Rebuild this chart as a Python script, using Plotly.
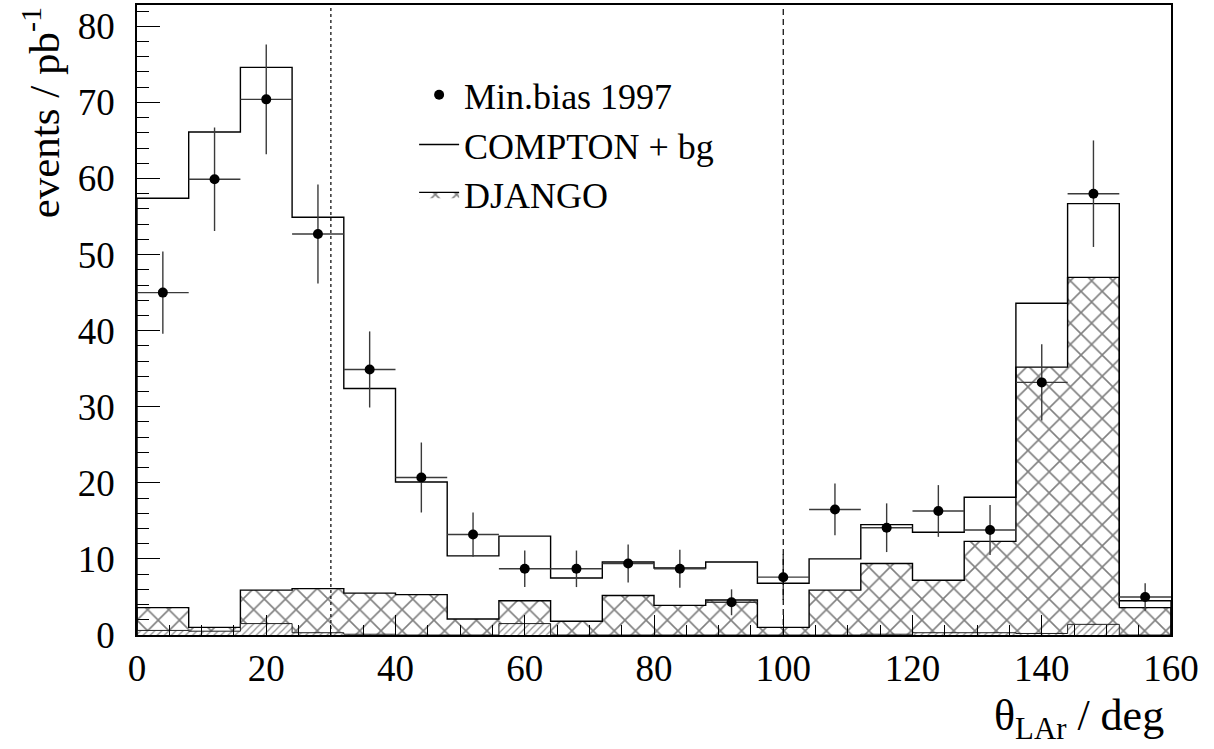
import numpy as np
import plotly.graph_objects as go

# Binning in theta_LAr (deg)
bin_edges = np.arange(0, 161, 8)
bin_centers = (bin_edges[:-1] + bin_edges[1:]) / 2
half_width = np.diff(bin_edges) / 2

# Data: minimum-bias 1997 (events / pb^-1) with statistical errors
data_values = [45.0, 59.9, 70.4, 52.7, 34.9, 20.7, 13.2, 8.7, 8.7, 9.4,
               8.7, 4.3, 7.6, 16.5, 14.1, 16.3, 13.8, 33.2, 58.0, 5.0]
data_errors = [5.4, 6.8, 7.2, 6.5, 5.0, 4.6, 2.9, 2.4, 2.4, 2.5,
               2.5, 1.7, 3.0, 3.4, 3.2, 3.4, 3.3, 5.0, 7.0, 1.8]

# Monte Carlo: COMPTON + background (total prediction)
compton_bg = [57.4, 66.1, 74.6, 54.9, 32.4, 20.1, 10.4, 13.0, 7.5, 9.6,
              8.8, 9.6, 6.8, 10.0, 14.5, 13.5, 18.1, 43.6, 56.7, 4.5]

# Monte Carlo: DJANGO contribution
django = [3.6, 1.0, 5.9, 6.1, 5.5, 5.3, 2.1, 4.5, 1.8, 5.2,
          3.9, 4.6, 1.0, 5.9, 9.4, 7.2, 12.3, 35.2, 47.0, 3.6]

# Small remaining background component
other_bg = [0.6, 0.5, 1.5, 0.3, 0.1, 0.0, 0.0, 1.5, 0.0, 0.0,
            0.0, 0.0, 0.0, 0.0, 0.1, 0.3, 0.3, 0.2, 1.4, 0.0]

# Acceptance cuts in theta
cut_low = 30
cut_high = 100

x_range = [0, 160]
y_range = [0, 82.8]
x_ticks = [0, 20, 40, 60, 80, 100, 120, 140, 160]
y_ticks = [0, 10, 20, 30, 40, 50, 60, 70, 80]

FONT = "Liberation Serif"


def step_outline(edges, values):
    """Closed histogram outline: from (x0, 0) along the bin tops to (xN, 0)."""
    xs = np.repeat(edges, 2)
    ys = np.concatenate([[0.0], np.repeat(np.asarray(values, float), 2), [0.0]])
    return xs, ys


fig = go.Figure()

# DJANGO hatched histogram
xs, ys = step_outline(bin_edges, django)
fig.add_trace(go.Scatter(
    x=xs, y=ys, mode="lines", name="DJANGO", fill="toself",
    fillcolor="rgba(0,0,0,0)",
    fillpattern=dict(shape="x", size=15, solidity=0.2, fgcolor="black", bgcolor="white"),
    line=dict(color="black", width=1.4),
    legendrank=3,
))

# Remaining small background, densely hatched
xs, ys = step_outline(bin_edges, other_bg)
fig.add_trace(go.Scatter(
    x=xs, y=ys, mode="lines", name="other bg", fill="toself",
    fillcolor="rgba(0,0,0,0)",
    fillpattern=dict(shape="/", size=5, solidity=0.25, fgcolor="#222", bgcolor="white"),
    line=dict(color="#222", width=1.0),
    showlegend=False,
))

# Total prediction outline
xs, ys = step_outline(bin_edges, compton_bg)
fig.add_trace(go.Scatter(
    x=xs, y=ys, mode="lines", name="COMPTON + bg",
    line=dict(color="black", width=1.4),
    legendrank=2,
))

# Data points with error bars
fig.add_trace(go.Scatter(
    x=bin_centers, y=data_values, mode="markers", name="Min.bias 1997",
    marker=dict(color="black", size=10, symbol="circle"),
    error_y=dict(type="data", array=data_errors, width=0, thickness=1.4, color="#3a3a3a"),
    error_x=dict(type="data", array=half_width, width=0, thickness=1.4, color="#3a3a3a"),
    legendrank=1,
))

# Cut lines
fig.add_shape(type="line", x0=cut_low, x1=cut_low, y0=0, y1=1, xref="x", yref="paper",
              line=dict(color="black", width=1.2, dash="dot"))
fig.add_shape(type="line", x0=cut_high, x1=cut_high, y0=0, y1=1, xref="x", yref="paper",
              line=dict(color="black", width=1.2, dash="6px,4px"))

axis_common = dict(
    showline=True, linecolor="black", linewidth=1.5, mirror=True,
    ticks="inside", tickcolor="black", tickwidth=1.2,
    showgrid=False, zeroline=False,
    tickfont=dict(family=FONT, size=37, color="black"),
)

fig.update_xaxes(
    range=x_range, tickvals=x_ticks, ticklen=20, ticklabelstandoff=0,
    minor=dict(dtick=5, ticks="inside", ticklen=10, tickcolor="black", tickwidth=1.2, showgrid=False),
    **axis_common,
)
fig.update_yaxes(
    range=y_range, tickvals=y_ticks, ticklen=23, ticklabelstandoff=13,
    minor=dict(dtick=2, ticks="inside", ticklen=12, tickcolor="black", tickwidth=1.2, showgrid=False),
    **axis_common,
)

# Axis titles
fig.add_annotation(
    text="events / pb<sup>-1</sup>", xref="paper", yref="paper",
    x=-0.093, y=1.0, xanchor="center", yanchor="top", textangle=-90,
    showarrow=False, font=dict(family=FONT, size=43, color="black"),
)
fig.add_annotation(
    text="θ<sub>LAr</sub> / deg", xref="paper", yref="paper",
    x=0.995, y=-0.085, xanchor="right", yanchor="top",
    showarrow=False, font=dict(family=FONT, size=44, color="black"),
)

fig.update_layout(
    width=1214, height=749,
    margin=dict(l=137, r=43, t=3, b=114),
    paper_bgcolor="white", plot_bgcolor="white",
    showlegend=True,
    legend=dict(
        x=0.268, y=0.905, xanchor="left", yanchor="top",
        bgcolor="rgba(0,0,0,0)", borderwidth=0,
        font=dict(family=FONT, size=36, color="black"),
        traceorder="normal", itemwidth=40,
    ),
)

fig.write_html("out.html")
